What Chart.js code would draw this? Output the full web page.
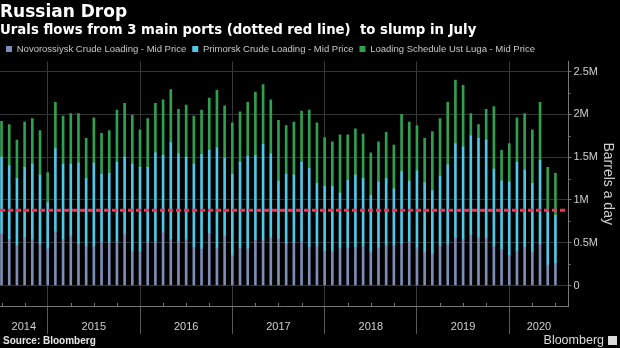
<!DOCTYPE html>
<html>
<head>
<meta charset="utf-8">
<script src="https://cdn.jsdelivr.net/npm/chart.js@4.4.1/dist/chart.umd.min.js"></script>
<style>
  html, body { margin: 0; padding: 0; background: #000; }
</style>
</head>
<body>
<canvas id="chart" width="620" height="348"></canvas>
<script>
// monthly loadings, million barrels a day, Jul 2014 .. Jul 2020
const novorossiysk = [
  0.61, 0.54, 0.47, 0.56, 0.54, 0.49,
  0.43, 0.63, 0.54, 0.58, 0.49, 0.46, 0.46, 0.51, 0.50, 0.51, 0.60, 0.40,
  0.40, 0.50, 0.51, 0.62, 0.54, 0.51, 0.54, 0.45, 0.43, 0.61, 0.44, 0.58,
  0.35, 0.44, 0.43, 0.53, 0.53, 0.56, 0.55, 0.49, 0.50, 0.52, 0.45, 0.46,
  0.40, 0.40, 0.44, 0.44, 0.45, 0.46, 0.39, 0.44, 0.47, 0.47, 0.49, 0.51,
  0.44, 0.39, 0.37, 0.46, 0.48, 0.56, 0.54, 0.59, 0.56, 0.56, 0.46, 0.42,
  0.35, 0.40, 0.45, 0.39, 0.48, 0.24, 0.26
];
const primorsk = [
  0.89, 0.86, 0.78, 0.82, 0.88, 0.80,
  0.54, 0.97, 0.88, 0.84, 0.94, 0.79, 0.97, 0.79, 0.81, 0.93, 0.90, 1.02,
  0.98, 0.88, 1.04, 0.90, 1.13, 1.03, 0.96, 0.97, 1.10, 0.97, 1.17, 0.91,
  0.95, 1.00, 1.08, 0.99, 1.12, 0.98, 0.67, 0.81, 0.79, 0.92, 0.92, 0.73,
  0.76, 0.76, 0.64, 0.79, 0.84, 0.79, 0.66, 0.77, 0.78, 0.66, 0.84, 0.71,
  0.90, 0.81, 0.74, 0.82, 0.93, 1.10, 1.08, 1.16, 1.16, 1.14, 0.90, 0.80,
  0.86, 1.04, 0.90, 0.80, 0.98, 0.63, 0.56
];
const ustLuga = [
  0.42, 0.48, 0.45, 0.53, 0.53, 0.52,
  0.35, 0.54, 0.56, 0.59, 0.58, 0.47, 0.53, 0.48, 0.50, 0.61, 0.63, 0.57,
  0.44, 0.57, 0.58, 0.65, 0.62, 0.52, 0.61, 0.56, 0.52, 0.61, 0.67, 0.61,
  0.60, 0.59, 0.63, 0.74, 0.70, 0.63, 0.71, 0.57, 0.62, 0.60, 0.68, 0.71,
  0.57, 0.52, 0.68, 0.53, 0.54, 0.52, 0.50, 0.47, 0.54, 0.51, 0.67, 0.69,
  0.53, 0.52, 0.69, 0.67, 0.73, 0.74, 0.72, 0.26, 0.16, 0.36, 0.73, 0.36,
  0.45, 0.52, 0.66, 0.63, 0.68, 0.51, 0.49
];
const julyPortsFlow = 0.88;   // dotted red line
const years = ['2014', '2015', '2016', '2017', '2018', '2019', '2020'];
const yTicks = [0, 0.5, 1, 1.5, 2, 2.5];
const seriesNames = [
  'Novorossiysk Crude Loading - Mid Price',
  'Primorsk Crude Loading - Mid Price',
  'Loading Schedule Ust Luga - Mid Price'
];
const seriesColors = ['#7d8db5', '#4ec8e4', '#2f9f50'];

// month keys, first bar is July 2014
const months = novorossiysk.map((v, i) => {
  const m = 6 + i;
  return (2014 + Math.floor(m / 12)) + '-' + String(m % 12 + 1).padStart(2, '0');
});
const yearStarts = months.map((m, i) => m.endsWith('-01') ? i : -1).filter(i => i >= 0);

const X_MIN = -0.2, X_MAX = 73.7;
const Y_MIN = -0.24, Y_MAX = 2.62;

const series = [novorossiysk, primorsk, ustLuga];

const decorations = {
  id: 'decorations',
  afterDraw(chart) {
    const { ctx, chartArea, scales: { x, y } } = chart;
    ctx.save();
    ctx.strokeStyle = '#777';
    ctx.lineWidth = 1;
    // quarterly ticks on the time axis
    months.forEach((m, i) => {
      if (i % 3 !== 0 || yearStarts.includes(i)) return;
      const px = Math.round(x.getPixelForValue(i)) + 0.5;
      ctx.beginPath();
      ctx.moveTo(px, chartArea.bottom);
      ctx.lineTo(px, chartArea.bottom - 3);
      ctx.stroke();
    });
    // minor ticks on the value axis
    for (let k = 0; k < yTicks.length - 1; k++) {
      const py = Math.round(y.getPixelForValue((yTicks[k] + yTicks[k + 1]) / 2)) + 0.5;
      ctx.beginPath();
      ctx.moveTo(chartArea.right, py);
      ctx.lineTo(chartArea.right + 2, py);
      ctx.stroke();
    }
    // year labels, centred between year boundaries
    const edges = [x.min, ...yearStarts, x.max];
    ctx.fillStyle = '#cfcfcf';
    ctx.font = '11px "Liberation Sans"';
    ctx.textAlign = 'center';
    ctx.textBaseline = 'middle';
    years.forEach((yr, k) => {
      const a = x.getPixelForValue(edges[k]);
      const b = x.getPixelForValue(edges[k + 1]);
      ctx.fillText(yr, (a + b) / 2, 327);
    });
    // footer
    ctx.textAlign = 'left';
    ctx.fillStyle = '#e6e6e6';
    ctx.font = 'bold 10px "Liberation Sans"';
    ctx.fillText('Source: Bloomberg', 3, 341);
    ctx.font = '12.5px "Liberation Sans"';
    ctx.fillStyle = '#dcdcdc';
    ctx.textAlign = 'right';
    ctx.fillText('Bloomberg', 604, 341);
    ctx.fillRect(608, 336, 9, 9);
    ctx.restore();
  }
};

new Chart(document.getElementById('chart'), {
  type: 'bar',
  data: {
    datasets: [
      ...series.map((vals, s) => ({
        label: seriesNames[s],
        data: vals.map((v, i) => ({ x: i, y: v })),
        backgroundColor: seriesColors[s],
        borderWidth: 0,
        barThickness: 2,
        order: 1
      })),
      {
        type: 'line',
        label: 'Urals flows from 3 main ports',
        data: [{ x: X_MIN, y: julyPortsFlow }, { x: X_MAX, y: julyPortsFlow }],
        borderColor: '#ec3658',
        borderWidth: 3,
        borderDash: [5, 3],
        pointRadius: 0,
        stack: 'ref',
        order: 0
      }
    ]
  },
  options: {
    responsive: false,
    animation: false,
    devicePixelRatio: 1,
    layout: { padding: 0 },
    plugins: {
      title: {
        display: true,
        text: 'Russian Drop',
        align: 'start',
        color: '#ffffff',
        font: { family: 'DejaVu Sans', size: 17, weight: 'bold' },
        padding: { top: 2, bottom: 0 }
      },
      subtitle: {
        display: true,
        text: 'Urals flows from 3 main ports (dotted red line)  to slump in July',
        align: 'start',
        color: '#ffffff',
        font: { family: 'DejaVu Sans', size: 13.3, weight: 'bold' },
        padding: { top: 0, bottom: 0 }
      },
      legend: {
        align: 'start',
        maxHeight: 23,
        labels: {
          boxWidth: 6,
          boxHeight: 6,
          padding: 6,
          color: '#c8c8c8',
          font: { family: 'Liberation Sans', size: 9.5 },
          filter: item => item.datasetIndex < 3
        }
      },
      tooltip: { enabled: false }
    },
    scales: {
      x: {
        type: 'linear',
        stacked: true,
        offset: false,
        min: X_MIN,
        max: X_MAX,
        afterBuildTicks: s => { s.ticks = yearStarts.map(v => ({ value: v })); },
        afterFit: s => { s.height = 42; },
        ticks: { display: false },
        grid: { offset: false, color: '#3a3a3a', tickColor: '#5a5a5a', tickLength: 28, drawTicks: true },
        border: { display: true, color: '#777' }
      },
      y: {
        position: 'right',
        stacked: true,
        min: Y_MIN,
        max: Y_MAX,
        afterBuildTicks: s => { s.ticks = yTicks.map(v => ({ value: v })); },
        afterFit: s => { s.width = 51.5; },
        ticks: {
          color: '#cfcfcf',
          padding: 2,
          font: { family: 'Liberation Sans', size: 11 },
          callback: v => v === 0 ? '0' : v + 'M'
        },
        grid: { color: '#333', tickColor: '#777', tickLength: 3 },
        border: { display: true, color: '#777' },
        title: {
          display: true,
          text: 'Barrels a day',
          color: '#cfcfcf',
          font: { family: 'Liberation Sans', size: 14 }
        }
      }
    }
  },
  plugins: [decorations]
});
</script>
</body>
</html>
